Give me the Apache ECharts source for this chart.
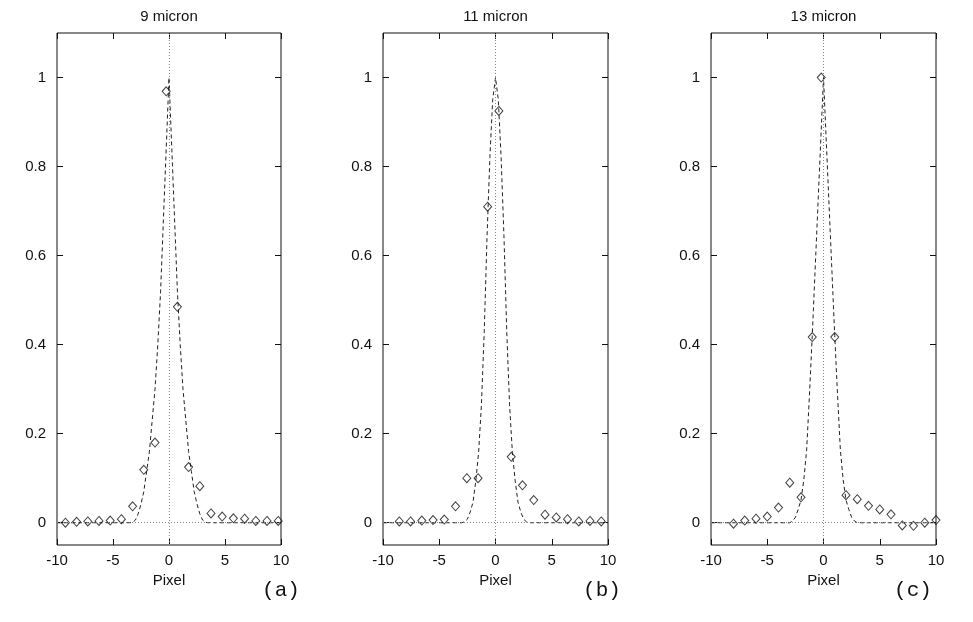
<!DOCTYPE html>
<html><head><meta charset="utf-8">
<script src="https://cdn.jsdelivr.net/npm/echarts@6/dist/echarts.min.js"></script>
<style>html,body{margin:0;padding:0;background:#fff}#c{width:973px;height:622px}</style>
</head><body><div id="c"></div>
<script>
// ---- data ----
const panelTitles = ['9 micron', '11 micron', '13 micron'];
const panelTags = ['(a)', '(b)', '(c)'];
const xAxisName = 'Pixel';
const xTickValues = [-10, -5, 0, 5, 10];
const yTickValues = [0, 0.2, 0.4, 0.6, 0.8, 1];

const aPointX = [-9.25,-8.25,-7.25,-6.25,-5.25,-4.25,-3.25,-2.25,-1.25,-0.25,0.75,1.75,2.75,3.75,4.75,5.75,6.75,7.75,8.75,9.75];
const aPointY = [0.0,0.002,0.003,0.004,0.005,0.008,0.037,0.119,0.18,0.969,0.485,0.125,0.082,0.021,0.014,0.01,0.009,0.004,0.004,0.004];

const bPointX = [-8.55,-7.55,-6.55,-5.55,-4.55,-3.55,-2.55,-1.55,-0.7,0.3,1.4,2.4,3.4,4.4,5.4,6.4,7.4,8.4,9.4];
const bPointY = [0.003,0.003,0.005,0.006,0.007,0.037,0.1,0.1,0.71,0.925,0.148,0.084,0.051,0.018,0.012,0.008,0.003,0.004,0.003];

const cPointX = [-8,-7,-6,-5,-4,-3,-2,-1,-0.2,1,2,3,4,5,6,7,8,9,10];
const cPointY = [-0.002,0.005,0.009,0.014,0.034,0.09,0.057,0.417,1.0,0.417,0.062,0.053,0.038,0.03,0.019,-0.006,-0.007,0.0,0.006];

const curveX = [-10,-4,-3.5,-3.25,-3,-2.75,-2.5,-2.25,-2,-1.75,-1.5,-1.25,-1,-0.75,-0.5,-0.25,0,0.25,0.5,0.75,1,1.25,1.5,1.75,2,2.25,2.5,2.75,3,3.25,3.5,4,10];
const aCurveY = [0,0,0,0.001,0.006,0.02,0.042,0.07,0.115,0.16,0.23,0.30,0.40,0.52,0.68,0.84,1,0.84,0.68,0.52,0.40,0.30,0.23,0.16,0.115,0.07,0.042,0.02,0.006,0.001,0,0,0];
const bCurveY = [0,0,0,0,0,0.002,0.008,0.024,0.046,0.094,0.158,0.265,0.43,0.645,0.82,0.95,1,0.95,0.82,0.645,0.43,0.265,0.158,0.094,0.046,0.024,0.008,0.002,0,0,0,0,0];
const cCurveY = [0,0,0,0,0,0.004,0.012,0.03,0.051,0.096,0.163,0.286,0.42,0.565,0.71,0.855,1,0.855,0.71,0.565,0.42,0.286,0.163,0.096,0.051,0.03,0.012,0.004,0,0,0,0,0];

// ---- layout ----
const panels = [
  {left: 57, width: 224, px: aPointX, py: aPointY, cy: aCurveY, tagX: 281},
  {left: 383, width: 225, px: bPointX, py: bPointY, cy: bCurveY, tagX: 602},
  {left: 711, width: 225, px: cPointX, py: cPointY, cy: cCurveY, tagX: 913}
];
const TOP = 33, HEIGHT = 512;
const FONT = '"Liberation Sans", Arial, Helvetica, sans-serif';
const INK = '#111';

const zip = (xs, ys) => xs.map((x, i) => [x, ys[i]]);

const option = {animation: false, backgroundColor: '#fff', grid: [], xAxis: [], yAxis: [], series: [], graphic: []};

panels.forEach((p, i) => {
  option.grid.push({left: p.left, top: TOP, width: p.width, height: HEIGHT, show: true,
    borderColor: INK, borderWidth: 1, backgroundColor: 'transparent'});
  option.xAxis.push({gridIndex: i, type: 'value', min: -10, max: 10, interval: 5, position: 'bottom',
    axisLine: {show: false, onZero: false}, splitLine: {show: false},
    axisTick: {inside: true, length: 6, lineStyle: {color: INK}, customValues: xTickValues},
    axisLabel: {color: INK, fontFamily: FONT, fontSize: 15, margin: 8, customValues: xTickValues},
    name: xAxisName, nameLocation: 'middle', nameGap: 25,
    nameTextStyle: {color: INK, fontFamily: FONT, fontSize: 15}});
  option.xAxis.push({gridIndex: i, type: 'value', min: -10, max: 10, interval: 5, position: 'top',
    axisLine: {show: false, onZero: false}, splitLine: {show: false}, axisLabel: {show: false},
    axisTick: {inside: true, length: 6, lineStyle: {color: INK}, customValues: xTickValues}});
  option.yAxis.push({gridIndex: i, type: 'value', min: -0.05, max: 1.1, position: 'left',
    axisLine: {show: false, onZero: false}, splitLine: {show: false},
    axisTick: {inside: true, length: 6, lineStyle: {color: INK}, customValues: yTickValues},
    axisLabel: {color: INK, fontFamily: FONT, fontSize: 15, margin: 11, customValues: yTickValues}});
  option.yAxis.push({gridIndex: i, type: 'value', min: -0.05, max: 1.1, position: 'right',
    axisLine: {show: false, onZero: false}, splitLine: {show: false}, axisLabel: {show: false},
    axisTick: {inside: true, length: 6, lineStyle: {color: INK}, customValues: yTickValues}});

  option.series.push({type: 'line', xAxisIndex: 2 * i, yAxisIndex: 2 * i, data: zip(curveX, p.cy),
    showSymbol: false, symbol: 'none', silent: true,
    lineStyle: {color: '#222', width: 1, type: [4, 3]}, z: 2,
    markLine: {silent: true, symbol: ['none', 'none'], label: {show: false},
      lineStyle: {color: '#888', width: 1, type: [1, 2]},
      data: [{xAxis: 0}, {yAxis: 0}]}});
  option.series.push({type: 'scatter', xAxisIndex: 2 * i, yAxisIndex: 2 * i, data: zip(p.px, p.py),
    symbol: 'diamond', symbolSize: [8, 9], silent: true, z: 3,
    itemStyle: {color: 'rgba(255,255,255,0)', borderColor: '#111', borderWidth: 1}});

  option.graphic.push({type: 'text', position: [p.left + p.width / 2, 17], silent: true,
    style: {text: panelTitles[i], x: 0, y: 0, fill: INK, font: '15px ' + FONT, textAlign: 'center', textVerticalAlign: 'middle'}});
  option.graphic.push({type: 'text', position: [p.tagX, 590], silent: true,
    style: {text: panelTags[i], x: 0, y: 0, fill: INK, font: '21px "Liberation Mono", "DejaVu Sans Mono", monospace', textAlign: 'center', textVerticalAlign: 'middle'}});
});

const chart = echarts.init(document.getElementById('c'), null, {renderer: 'canvas'});
chart.setOption(option);
</script>
</body></html>
